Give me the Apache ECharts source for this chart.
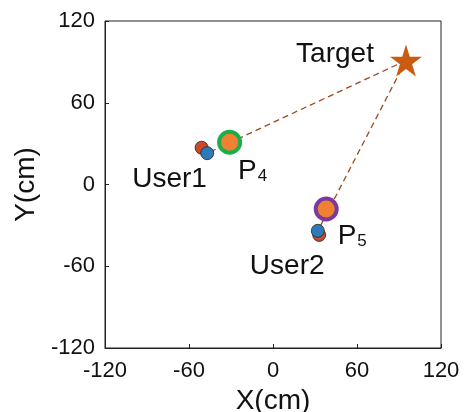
<!DOCTYPE html>
<html><head><meta charset="utf-8">
<script src="https://cdn.jsdelivr.net/npm/echarts@6/dist/echarts.min.js"></script>
<style>html,body{margin:0;padding:0;background:#fff}#c{width:464px;height:412px}</style>
</head><body><div id="c"></div>
<script>
var xTicks = [-120, -60, 0, 60, 120];
var yTicks = [-120, -60, 0, 60, 120];
var target = [95, 91];
var userRed = [[-51, 27], [33, -37]];
var userBlue = [[-47, 23], [32, -34]];
var predicted = [[-31, 31], [38, -18]];
var predNames = ['4', '5'];
var userNames = ['User1', 'User2'];
var ringColors = ['#1aaf4b', '#7a3a9e'];

var FONT = "'Liberation Sans', Arial, Helvetica, sans-serif";
var chart = echarts.init(document.getElementById('c'), null, {renderer: 'canvas'});
var starPath = 'path://M50,0 L61.8,36.2 L100,36.2 L69.1,58.8 L80.9,95.1 L50,72.7 L19.1,95.1 L30.9,58.8 L0,36.2 L38.2,36.2 Z';

var series = [];
userBlue.forEach(function (u, i) {
  series.push({
    type: 'line', data: [target, u], symbol: 'none', silent: true, z: 1,
    lineStyle: {type: [6, 4], color: '#9c4a1a', width: 1.3}
  });
});
var userOffsets = [[-32, 32], [-32, 31]];
series.push({
  type: 'scatter', symbolSize: 13, z: 3,
  itemStyle: {color: '#cc4a2c', borderColor: '#222', borderWidth: 0.8, opacity: 1},
  data: userRed.map(function (p, i) {
    return {value: p, name: userNames[i], label: {offset: userOffsets[i]}};
  }),
  label: {show: true, position: 'inside', formatter: '{b}', color: '#111', fontSize: 28, fontFamily: FONT}
});
series.push({
  type: 'scatter', symbolSize: 13, z: 4,
  itemStyle: {color: '#2c7bb8', borderColor: '#222', borderWidth: 0.8, opacity: 1},
  data: userBlue
});
var predOffsets = [[23, 29], [26, 27]];
series.push({
  type: 'scatter', symbolSize: 21, z: 5,
  data: predicted.map(function (p, i) {
    return {value: p, name: predNames[i], itemStyle: {borderColor: ringColors[i]},
      label: {offset: predOffsets[i]}};
  }),
  itemStyle: {color: '#f08133', borderWidth: 4, opacity: 1},
  label: {show: true, position: 'inside', formatter: '{a|P}{b|{b}}', color: '#111', fontFamily: FONT,
    rich: {a: {fontSize: 28, lineHeight: 28, fontFamily: FONT, color: '#111', verticalAlign: 'top'},
           b: {fontSize: 17, lineHeight: 16, fontFamily: FONT, color: '#111', verticalAlign: 'bottom', padding: [20, 0, 0, 1]}}}
});
series.push({
  type: 'scatter', symbol: starPath, symbolSize: 32, z: 6,
  itemStyle: {color: '#c95c12', opacity: 1},
  data: [{value: target, name: 'Target'}],
  label: {show: true, position: 'inside', formatter: '{b}', offset: [-71, -6], color: '#111', fontSize: 28, fontFamily: FONT}
});

chart.setOption({
  animation: false,
  grid: {left: 105, right: 23, top: 21, bottom: 64, show: true, borderColor: '#222', borderWidth: 1,
    containLabel: false, outerBoundsMode: 'none'},
  xAxis: {
    type: 'value', min: xTicks[0], max: xTicks[xTicks.length - 1], interval: 60,
    name: 'X(cm)', nameLocation: 'middle', nameGap: 39,
    nameTextStyle: {fontSize: 28, color: '#111', fontFamily: FONT},
    axisLine: {show: true, onZero: false, lineStyle: {color: '#222', width: 1}},
    axisTick: {show: true, inside: true, length: 4, lineStyle: {color: '#222'}},
    splitLine: {show: false},
    axisLabel: {fontSize: 22, color: '#111', fontFamily: FONT, margin: 12,
      formatter: function (v) { return xTicks.indexOf(v) >= 0 ? String(v) : ''; }}
  },
  yAxis: {
    type: 'value', min: yTicks[0], max: yTicks[yTicks.length - 1], interval: 60,
    name: 'Y(cm)', nameLocation: 'middle', nameGap: 63,
    nameTextStyle: {fontSize: 28, color: '#111', fontFamily: FONT},
    axisLine: {show: true, onZero: false, lineStyle: {color: '#222', width: 1}},
    axisTick: {show: true, inside: true, length: 4, lineStyle: {color: '#222'}},
    splitLine: {show: false},
    axisLabel: {fontSize: 22, color: '#111', fontFamily: FONT, margin: 10,
      formatter: function (v) { return yTicks.indexOf(v) >= 0 ? String(v) : ''; }}
  },
  series: series
});
</script></body></html>
